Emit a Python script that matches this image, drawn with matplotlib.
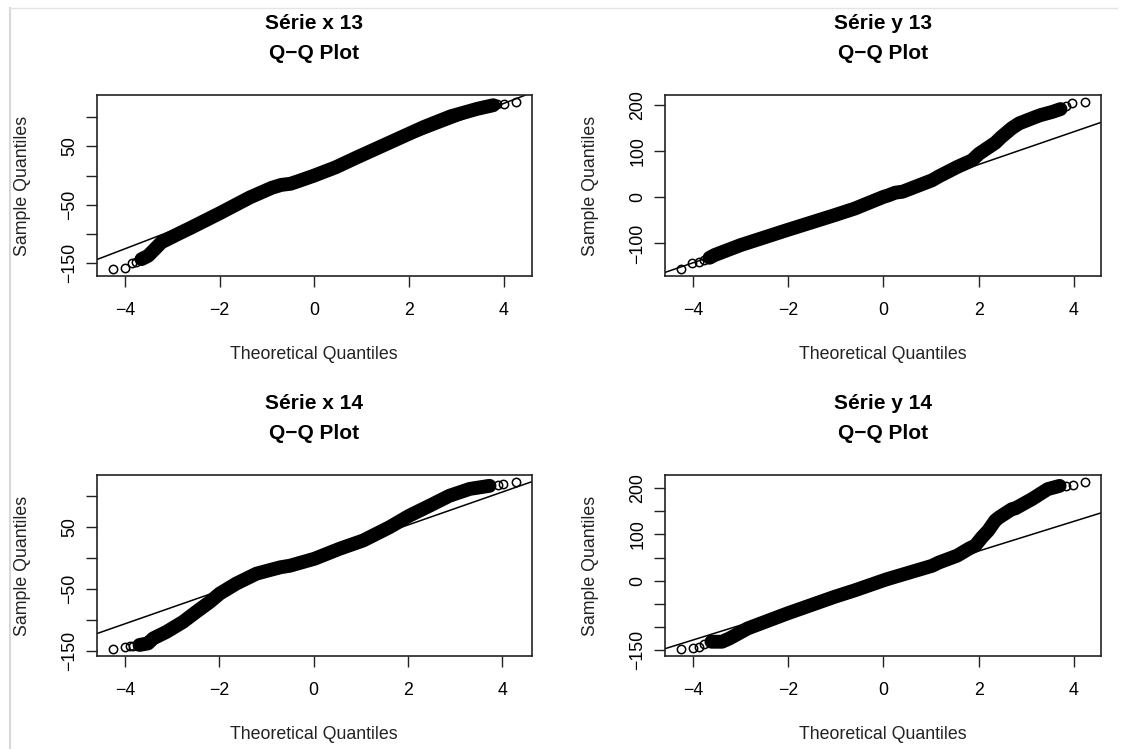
import numpy as np
import matplotlib
matplotlib.use("Agg")
import matplotlib.pyplot as plt
from matplotlib.lines import Line2D

plt.rcParams['font.family'] = ['Liberation Sans', 'DejaVu Sans']

# ---- Série x 13 ----
x13_theo = [-3.65, -3.51, -3.37, -3.23, -2.91, -2.63, -1.99, -1.36, -0.90, -0.70,
            -0.50, -0.30, 0.00, 0.45, 0.90, 1.61, 2.32, 2.88, 3.45, 3.78]
x13_samp = [-142.7, -137.0, -125.6, -114.0, -101.0, -90.0, -64.0, -37.3, -21.0, -16.0,
            -14.0, -8.5, 0.0, 14.0, 31.0, 57.0, 83.0, 101.0, 114.0, 120.0]
x13_lo_theo = [-4.25, -4.00, -3.86, -3.76]
x13_lo_samp = [-160.0, -157.0, -149.6, -147.0]
x13_hi_theo = [3.86, 4.00, 4.25]
x13_hi_samp = [121.5, 121.5, 126.0]

# ---- Série y 13 ----
y13_theo = [-3.65, -3.54, -3.00, -2.02, -1.03, -0.60, 0.00, 0.10, 0.25, 0.40, 1.02, 1.16,
            1.55, 1.86, 2.01, 2.35, 2.47, 2.70, 2.85, 3.12, 3.30, 3.55, 3.72]
y13_samp = [-131.0, -125.0, -103.7, -71.0, -38.9, -24.4, 0.8, 4.0, 10.0, 12.0, 36.7, 45.0,
            65.6, 80.0, 94.4, 118.0, 130.0, 150.0, 160.0, 171.0, 178.0, 185.0, 191.0]
y13_lo_theo = [-4.24, -4.01, -3.88, -3.77]
y13_lo_samp = [-156.0, -142.0, -139.6, -136.0]
y13_hi_theo = [3.84, 3.97, 4.23]
y13_hi_samp = [198.0, 204.0, 207.0]

# ---- Série x 14 ----
x14_theo = [-3.69, -3.51, -3.40, -3.12, -2.77, -2.49, -2.20, -1.99, -1.64, -1.21,
            -0.90, -0.70, -0.50, 0.02, 0.55, 1.05, 1.61, 2.03, 2.46, 2.88, 3.31, 3.73]
x14_samp = [-140.0, -137.5, -129.5, -119.0, -103.0, -86.9, -70.8, -57.4, -41.3, -25.3,
            -19.0, -15.0, -12.5, -1.3, 14.7, 28.0, 49.4, 68.0, 84.0, 100.0, 111.0, 116.0]
x14_lo_theo = [-4.25, -4.00, -3.90, -3.83]
x14_lo_samp = [-147.0, -143.0, -142.0, -142.0]
x14_hi_theo = [3.90, 4.02, 4.28]
x14_hi_samp = [117.8, 119.0, 122.6]

# ---- Série y 14 ----
y14_theo = [-3.61, -3.39, -3.23, -2.85, -2.02, -1.03, -0.60, 0.00, 0.10, 1.02, 1.16, 1.55,
            1.79, 1.93, 2.07, 2.20, 2.35, 2.43, 2.70, 2.77, 3.12, 3.45, 3.70]
y14_samp = [-131.7, -131.7, -124.5, -103.0, -70.8, -35.0, -20.8, 0.6, 4.0, 32.0, 39.0, 54.0,
            68.7, 75.8, 93.6, 108.0, 130.0, 136.5, 154.5, 156.0, 176.0, 197.5, 204.5]
y14_lo_theo = [-4.24, -4.00, -3.88, -3.77]
y14_lo_samp = [-148.0, -146.0, -142.5, -136.7]
y14_hi_theo = [3.83, 3.99, 4.23]
y14_hi_samp = [204.5, 206.7, 213.5]

# reference lines (intercept, slope)
qqline_x13 = (-1.0, 31.0)
qqline_y13 = (0.0, 35.5)
qqline_x14 = (0.0, 26.5)
qqline_y14 = (0.0, 32.0)

titles = ["Série x 13", "Série y 13", "Série x 14", "Série y 14"]
xticks = [-4, -2, 0, 2, 4]
yticks_x = [-150, -100, -50, 0, 50, 100]
ylabels_x = ["\u2212150", "", "\u221250", "", "50", ""]
yticks_y13 = [-100, 0, 100, 200]
ylabels_y13 = ["\u2212100", "0", "100", "200"]
yticks_y14 = [-150, -100, -50, 0, 50, 100, 150, 200]
ylabels_y14 = ["\u2212150", "", "", "0", "", "100", "", "200"]

W, H = 1125, 749
fig = plt.figure(figsize=(W / 100, H / 100), dpi=100)

# faint outer frame
fig.add_artist(Line2D([10 / W, 10 / W], [0, 1 - 8 / H], color="#d8d8d8", lw=1.5))
fig.add_artist(Line2D([10 / W, 1117 / W], [1 - 8 / H, 1 - 8 / H], color="#e4e4e4", lw=1.0))


def box(l, t, r, b):
    return [l / W, 1 - b / H, (r - l) / W, (b - t) / H]


panels = [
    (box(97, 95, 531.6, 276), titles[0], x13_theo, x13_samp, x13_lo_theo, x13_lo_samp,
     x13_hi_theo, x13_hi_samp, qqline_x13, yticks_x, ylabels_x),
    (box(665.3, 95, 1101, 276), titles[1], y13_theo, y13_samp, y13_lo_theo, y13_lo_samp,
     y13_hi_theo, y13_hi_samp, qqline_y13, yticks_y13, ylabels_y13),
    (box(97, 475, 531.6, 656), titles[2], x14_theo, x14_samp, x14_lo_theo, x14_lo_samp,
     x14_hi_theo, x14_hi_samp, qqline_x14, yticks_x, ylabels_x),
    (box(665.3, 475, 1101, 656), titles[3], y14_theo, y14_samp, y14_lo_theo, y14_lo_samp,
     y14_hi_theo, y14_hi_samp, qqline_y14, yticks_y14, ylabels_y14),
]

FS = 12.8
for (rect, title, tx, sy, ltx, lsy, htx, hsy, (b0, b1), yt, ylab) in panels:
    ax = fig.add_axes(rect)
    # dense body of the sample drawn as a thick stroke of overlapping circles
    ax.plot(tx, sy, color="black", lw=10, solid_capstyle="round",
            solid_joinstyle="round", zorder=2)
    ax.plot(ltx + htx, lsy + hsy, "o", mfc="none", mec="black", ms=6.0, mew=1.1, zorder=3)
    ax.axline((0, b0), slope=b1, color="black", lw=1.1, zorder=1)

    allx = np.array(tx + ltx + htx)
    ally = np.array(sy + lsy + hsy)
    xr = allx.max() - allx.min()
    yr = ally.max() - ally.min()
    ax.set_xlim(allx.min() - 0.04 * xr, allx.max() + 0.04 * xr)
    ax.set_ylim(ally.min() - 0.04 * yr, ally.max() + 0.04 * yr)

    ax.set_xticks(xticks)
    ax.set_xticklabels(["\u22124", "\u22122", "0", "2", "4"], fontsize=FS)
    ax.set_yticks(yt)
    ax.set_yticklabels(ylab, fontsize=FS, rotation=90, va="center")
    ax.tick_params(direction="out", length=7.8, width=1.0, color="#222222")
    ax.tick_params(axis="x", pad=11)
    ax.tick_params(axis="y", pad=6)
    for s in ax.spines.values():
        s.set_linewidth(1.2)
        s.set_color("#222222")

    ax.set_xlabel("Theoretical Quantiles", fontsize=FS, color="#222222")
    ax.xaxis.set_label_coords(0.5, -0.385)
    ax.set_ylabel("Sample Quantiles", fontsize=FS, color="#222222")
    ax.yaxis.set_label_coords(-0.152, 0.5)
    ax.set_title(title + "\nQ\u2212Q Plot", fontsize=15, fontweight="bold",
                 linespacing=1.75, pad=26)

fig.savefig("out.png", dpi=100)
